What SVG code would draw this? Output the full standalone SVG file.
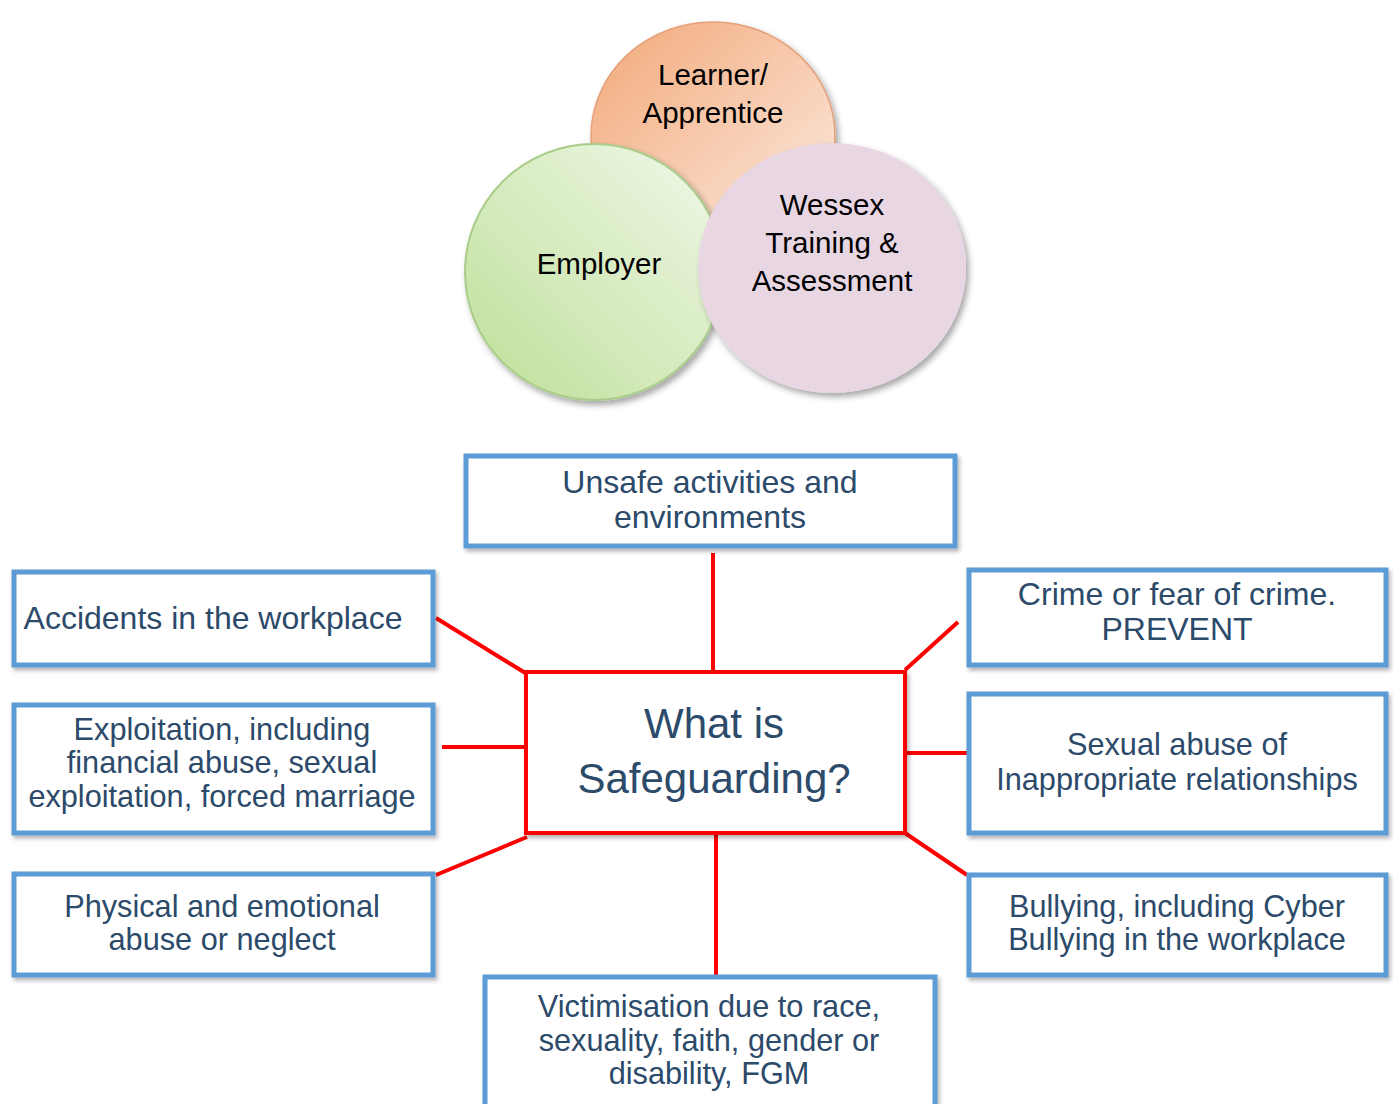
<svg xmlns="http://www.w3.org/2000/svg" width="1394" height="1104" viewBox="0 0 1394 1104">
<defs>
<linearGradient id="gOrange" x1="0" y1="0" x2="1" y2="1">
<stop offset="0" stop-color="#F2A878"/>
<stop offset="1" stop-color="#FCEDE4"/>
</linearGradient>
<linearGradient id="gGreen" x1="1" y1="0" x2="0" y2="1">
<stop offset="0" stop-color="#F1F8EA"/>
<stop offset="1" stop-color="#BEDF98"/>
</linearGradient>
<filter id="sh" x="-20%" y="-20%" width="140%" height="140%">
<feGaussianBlur in="SourceAlpha" stdDeviation="3"/>
<feOffset dx="3" dy="4" result="b"/>
<feFlood flood-color="#000" flood-opacity="0.35"/>
<feComposite in2="b" operator="in"/>
<feMerge><feMergeNode/><feMergeNode in="SourceGraphic"/></feMerge>
</filter>
<filter id="bsh" x="-10%" y="-10%" width="120%" height="130%">
<feGaussianBlur in="SourceAlpha" stdDeviation="2"/>
<feOffset dx="2" dy="3" result="b"/>
<feFlood flood-color="#000" flood-opacity="0.3"/>
<feComposite in2="b" operator="in"/>
<feMerge><feMergeNode/><feMergeNode in="SourceGraphic"/></feMerge>
</filter>
</defs>
<style>
.c{font-family:"Liberation Sans",Arial,sans-serif;font-size:29.5px;fill:#000;text-anchor:middle}
.t{font-family:"Liberation Sans",Arial,sans-serif;font-size:30.7px;fill:#2C4A6A;text-anchor:middle}
.big{font-size:32px}
.box{fill:#fff;stroke:#5B9BD5;stroke-width:5}
.ctr{fill:#fff;stroke:#FF0000;stroke-width:4}
.ln{stroke:#FF0000;stroke-width:4;fill:none}
</style>
<rect width="1394" height="1104" fill="#fff"/>

<g id="learner">
<ellipse cx="713" cy="136" rx="122" ry="114" fill="url(#gOrange)" stroke="#E5A07A" stroke-width="1.5" filter="url(#sh)"/>
<text class="c" x="713" y="85">Learner/</text>
<text class="c" x="713" y="123">Apprentice</text>
</g>
<g id="employer">
<ellipse cx="594" cy="272" rx="129" ry="128" fill="url(#gGreen)" stroke="#A9CC8A" stroke-width="2" filter="url(#sh)"/>
<text class="c" x="599" y="274">Employer</text>
</g>
<g id="wessex">
<ellipse cx="832" cy="268" rx="134" ry="125" fill="#E8D6E2" filter="url(#sh)"/>
<text class="c" x="832" y="215">Wessex</text>
<text class="c" x="832" y="253">Training &amp;</text>
<text class="c" x="832" y="291">Assessment</text>
</g>

<g id="connectors">
<line class="ln" x1="713" y1="553" x2="713" y2="671"/>
<line class="ln" x1="436" y1="618" x2="527" y2="674"/>
<line class="ln" x1="442" y1="747" x2="525" y2="747"/>
<line class="ln" x1="436" y1="875" x2="527" y2="837"/>
<line class="ln" x1="958" y1="622" x2="905" y2="670"/>
<line class="ln" x1="907" y1="753" x2="967" y2="753"/>
<line class="ln" x1="905" y1="833" x2="967" y2="875"/>
<line class="ln" x1="716" y1="835" x2="716" y2="975"/>
</g>

<g id="center">
<rect class="ctr" x="526" y="672" width="379" height="161" filter="url(#bsh)"/>
<text class="t" x="714" y="738" style="font-size:42px">What is</text>
<text class="t" x="714" y="793" style="font-size:42px">Safeguarding?</text>
</g>

<g id="unsafe">
<rect class="box" x="466" y="456" width="489" height="90" filter="url(#bsh)"/>
<text class="t big" x="710" y="493">Unsafe activities and</text>
<text class="t big" x="710" y="528">environments</text>
</g>
<g id="accidents">
<rect class="box" x="14" y="572" width="419" height="93" filter="url(#bsh)"/>
<text class="t big" x="213" y="629">Accidents in the workplace</text>
</g>
<g id="exploitation">
<rect class="box" x="14" y="705" width="419" height="128" filter="url(#bsh)"/>
<text class="t" x="222" y="740">Exploitation, including</text>
<text class="t" x="222" y="773">financial abuse, sexual</text>
<text class="t" x="222" y="807">exploitation, forced marriage</text>
</g>
<g id="physical">
<rect class="box" x="14" y="874" width="419" height="101" filter="url(#bsh)"/>
<text class="t" x="222" y="917">Physical and emotional</text>
<text class="t" x="222" y="950">abuse or neglect</text>
</g>
<g id="crime">
<rect class="box" x="969" y="570" width="417" height="95" filter="url(#bsh)"/>
<text class="t big" x="1177" y="605">Crime or fear of crime.</text>
<text class="t big" x="1177" y="640">PREVENT</text>
</g>
<g id="sexual">
<rect class="box" x="969" y="694" width="417" height="139" filter="url(#bsh)"/>
<text class="t" x="1177" y="755">Sexual abuse of</text>
<text class="t" x="1177" y="790">Inappropriate relationships</text>
</g>
<g id="bullying">
<rect class="box" x="969" y="875" width="417" height="100" filter="url(#bsh)"/>
<text class="t" x="1177" y="917">Bullying, including Cyber</text>
<text class="t" x="1177" y="950">Bullying in the workplace</text>
</g>
<g id="victimisation">
<rect class="box" x="485" y="977" width="450" height="140" filter="url(#bsh)"/>
<text class="t" x="709" y="1017">Victimisation due to race,</text>
<text class="t" x="709" y="1051">sexuality, faith, gender or</text>
<text class="t" x="709" y="1084">disability, FGM</text>
</g>
</svg>
